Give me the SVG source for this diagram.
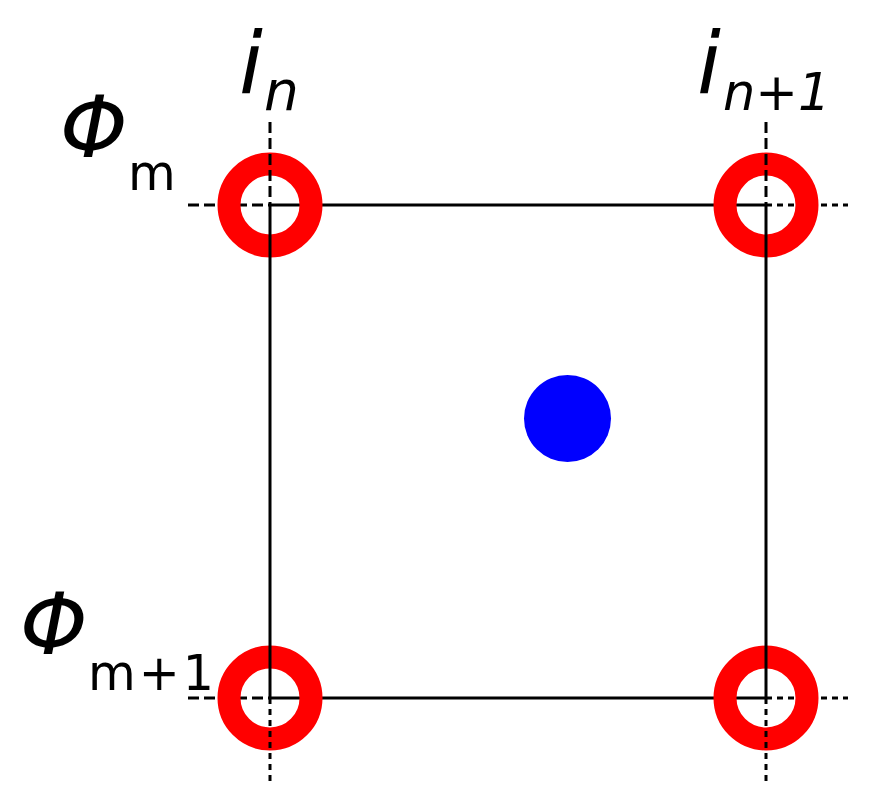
<svg xmlns="http://www.w3.org/2000/svg" width="869" height="812" viewBox="0 0 869 812">
<style>
.solid{stroke:#000;stroke-width:3;fill:none}
.dash{stroke:#000;stroke-width:3;fill:none;stroke-dasharray:11 5}
.dot{stroke:#000;stroke-width:3;fill:none;stroke-dasharray:6 5}
.ring{fill:none;stroke:#ff0000;stroke-width:23}
.lbl{font-family:"DejaVu Sans",sans-serif;fill:#000}
.it{font-style:italic}
</style>
<rect width="869" height="812" fill="#fff"/>
<g id="connectors-h">
<line class="solid" x1="270" y1="205" x2="766" y2="205"/>
<line class="solid" x1="270" y1="698" x2="766" y2="698"/>
<line class="dash" x1="188" y1="205" x2="270" y2="205"/>
<line class="dash" x1="188" y1="698" x2="270" y2="698"/>
<line class="dot" x1="766" y1="205" x2="848" y2="205"/>
<line class="dot" x1="766" y1="698" x2="848" y2="698"/>
</g>
<g id="node-tl"><circle class="ring" cx="270" cy="205" r="41"/></g>
<g id="node-tr"><circle class="ring" cx="766" cy="205" r="41"/></g>
<g id="node-bl"><circle class="ring" cx="270" cy="698" r="41"/></g>
<g id="node-br"><circle class="ring" cx="766" cy="698" r="41"/></g>
<g id="connectors-v">
<line class="solid" x1="270" y1="205" x2="270" y2="698"/>
<line class="solid" x1="766" y1="205" x2="766" y2="698"/>
<line class="dash" x1="270" y1="122" x2="270" y2="205"/>
<line class="dash" x1="766" y1="122" x2="766" y2="205"/>
<line class="dot" x1="270" y1="698" x2="270" y2="782"/>
<line class="dot" x1="766" y1="698" x2="766" y2="782"/>
</g>
<g id="node-center"><circle cx="567.5" cy="418.5" r="43.5" fill="#0000ff"/></g>
<g id="labels">
<text class="lbl it" x="239" y="93" font-size="86">i</text>
<text class="lbl it" x="264" y="110" font-size="55">n</text>
<text class="lbl it" x="697" y="93" font-size="86">i</text>
<text class="lbl it" x="723" y="110" font-size="51">n+1</text>
<text class="lbl it" x="60" y="157" font-size="86">Φ</text>
<text class="lbl" x="128" y="190" font-size="49">m</text>
<text class="lbl it" x="20" y="654" font-size="86">Φ</text>
<text class="lbl" x="88" y="690" font-size="49" textLength="126" lengthAdjust="spacing">m+1</text>
</g>
</svg>
